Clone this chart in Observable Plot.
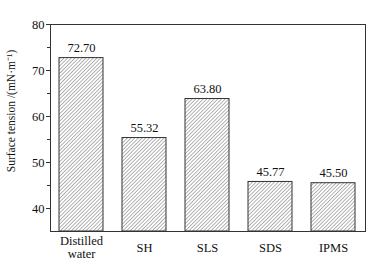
<!DOCTYPE html>
<html>
<head>
<meta charset="utf-8">
<script src="https://cdn.jsdelivr.net/npm/d3@7"></script>
<script src="https://cdn.jsdelivr.net/npm/@observablehq/plot@0.6"></script>
<style>
  html, body { margin: 0; padding: 0; background: #fff; }
  svg { font-family: "Liberation Serif", "Times New Roman", serif; }
</style>
</head>
<body>
<div id="chart"></div>
<script>
const categories = ["Distilled water", "SH", "SLS", "SDS", "IPMS"];
const values = [72.70, 55.32, 63.80, 45.77, 45.50];
const labels = ["72.70", "55.32", "63.80", "45.77", "45.50"];
const majorTicks = [40, 50, 60, 70, 80];
const minorTicks = [45, 55, 65, 75];

const data = categories.map((c, i) => ({category: c, value: values[i], label: labels[i]}));

const plot = Plot.plot({
  width: 376,
  height: 265,
  marginLeft: 50,
  marginRight: 11,
  marginTop: 24,
  marginBottom: 34,
  style: {fontFamily: "Liberation Serif, Times New Roman, serif", fontSize: "12px", color: "#111", background: "#fff"},
  x: {domain: categories, paddingInner: 0.3, paddingOuter: 0.15, label: null},
  y: {domain: [35, 80], label: null},
  marks: [
    () => {
      const ns = "http://www.w3.org/2000/svg";
      const defs = document.createElementNS(ns, "defs");
      defs.innerHTML = `<pattern id="hatch" width="2.6" height="2.6" patternUnits="userSpaceOnUse" patternTransform="rotate(45)">
        <line x1="0" y1="0" x2="0" y2="2.6" stroke="#555" stroke-width="0.9"/></pattern>`;
      return defs;
    },
    Plot.barY(data, {x: "category", y1: 35, y2: "value", fill: "url(#hatch)", stroke: "#333", strokeWidth: 1}),
    Plot.text(data, {x: "category", y: "value", text: "label", dy: -10, fontSize: 12.5, fill: "#111"}),
    Plot.axisY(majorTicks, {tickSize: 4, tickPadding: 2, fontSize: 12.5, stroke: "#333", fill: "#111", label: null}),
    Plot.axisY(minorTicks, {tickSize: 3, text: null, stroke: "#333", label: null}),
    Plot.axisX({tickSize: 0, tickPadding: 0, lineAnchor: "middle", dy: 16, fontSize: 12.5, fill: "#111",
      tickFormat: d => d === "Distilled water" ? "Distilled\nwater" : d, label: null}),
    Plot.frame({stroke: "#333", strokeWidth: 1}),
    Plot.text(["Surface tension /(mN·m⁻¹)"], {frameAnchor: "left", dx: -39, dy: -17, rotate: -90, fontSize: 11.5, fill: "#111", textAnchor: "middle"})
  ]
});
document.getElementById("chart").appendChild(plot);
</script>
</body>
</html>
